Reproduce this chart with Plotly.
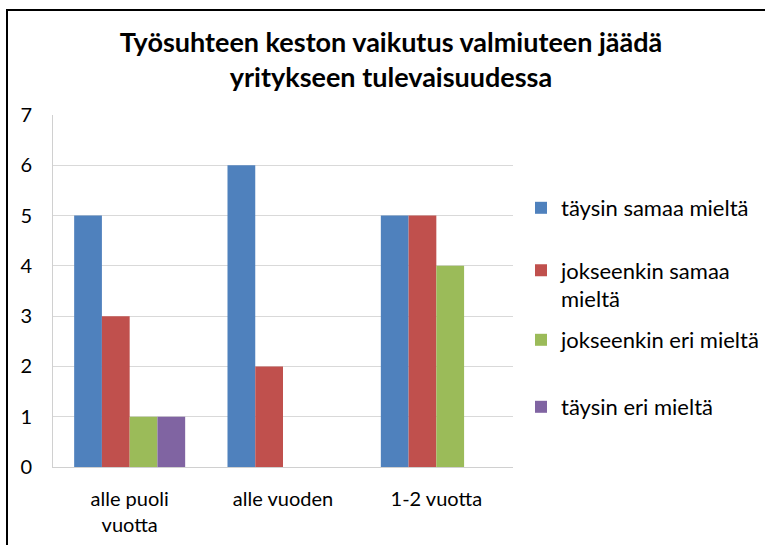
import plotly.graph_objects as go

categories = ["alle puoli<br>vuotta", "alle vuoden", "1-2 vuotta"]
series_names = ["täysin samaa mieltä", "jokseenkin samaa<br>mieltä", "jokseenkin eri mieltä", "täysin eri mieltä"]
taysin_samaa = [5, 6, 5]
jokseenkin_samaa = [3, 2, 5]
jokseenkin_eri = [1, 0, 4]
taysin_eri = [1, 0, 0]
colors = ["#4F81BD", "#C0504D", "#9BBB59", "#8064A2"]
y_ticks = [0, 1, 2, 3, 4, 5, 6, 7]

W, H = 765, 545
L, R, T, B = 53, 513, 115, 467
pw, ph = R - L, B - T

def px(x):
    return (x - L) / pw

def py(y):
    return (B - y) / ph

FONT = "Lato"
fig = go.Figure()
values = [taysin_samaa, jokseenkin_samaa, jokseenkin_eri, taysin_eri]
legend_ids = ["legend", "legend2", "legend3", "legend4"]
for name, vals, col, lg in zip(series_names, values, colors, legend_ids):
    fig.add_trace(go.Bar(x=categories, y=vals, name=name, marker=dict(color=col, line=dict(width=0)),
                         legend=lg))

legend_y = [208, 285, 340, 407]
leg_common = dict(font=dict(family=FONT, size=22, color="#000"), bgcolor="rgba(0,0,0,0)",
                  borderwidth=0, xanchor="left", yanchor="middle", itemwidth=30)
layout_legends = {}
for lg, yy in zip(legend_ids, legend_y):
    d = dict(leg_common)
    d.update(x=px(521), y=py(yy))
    if lg == "legend2":
        d.update(valign="top")
    layout_legends[lg] = d

fig.update_layout(
    width=W, height=H,
    margin=dict(l=L, r=W - R, t=T, b=H - B, autoexpand=False),
    paper_bgcolor="white", plot_bgcolor="white",
    barmode="group", bargap=0.276, bargroupgap=0,
    title=dict(text="<b>Työsuhteen keston vaikutus valmiuteen jäädä<br>yritykseen tulevaisuudessa</b>",
               xref="container", x=391 / W, xanchor="center",
               yref="container", y=1 - 52 / H, yanchor="middle",
               font=dict(family=FONT, size=27, color="#000")),
    showlegend=True,
    xaxis=dict(showline=True, linecolor="#d0d0d0", linewidth=1, ticks="",
               tickfont=dict(family=FONT, size=20, color="#000"), ticklabelstandoff=14),
    yaxis=dict(range=[0, 7], tickvals=y_ticks, showgrid=True, gridcolor="#d9d9d9", gridwidth=1,
               showline=True, linecolor="#d0d0d0", linewidth=1, zeroline=False, ticks="",
               tickfont=dict(family=FONT, size=20, color="#000"), ticklabelstandoff=16),
    shapes=[
        dict(type="line", xref="paper", yref="paper", x0=px(6), x1=px(766), y0=py(10), y1=py(10),
             line=dict(color="#000", width=2)),
        dict(type="line", xref="paper", yref="paper", x0=px(7), x1=px(7), y0=py(10), y1=py(546),
             line=dict(color="#000", width=2)),
    ],
    **layout_legends,
)

fig.write_html("out.html", config={"displayModeBar": False},
               post_script="document.body.style.margin='0';")
